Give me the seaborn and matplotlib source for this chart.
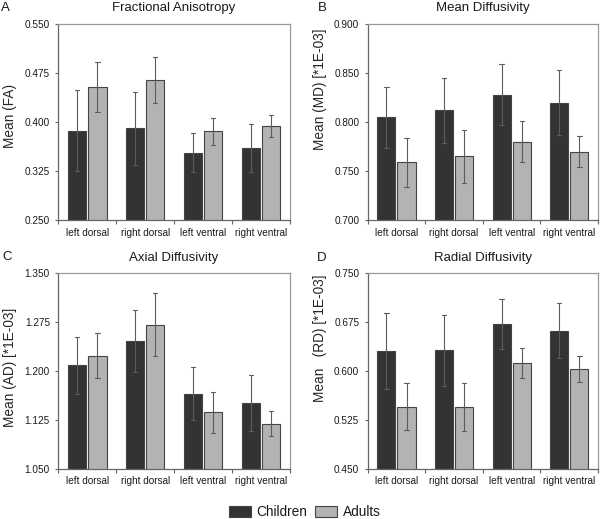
import pandas as pd
import matplotlib
matplotlib.use('Agg')
import matplotlib.pyplot as plt
import seaborn as sns
from matplotlib.patches import Patch
from matplotlib.ticker import FixedLocator, FormatStrFormatter

regions = ['left dorsal', 'right dorsal', 'left ventral', 'right ventral']
groups = ['Children', 'Adults']

fa_children = [0.387, 0.391, 0.353, 0.360]
fa_children_err = [0.062, 0.056, 0.030, 0.037]
fa_adults = [0.454, 0.465, 0.386, 0.394]
fa_adults_err = [0.038, 0.035, 0.021, 0.017]

md_children = [0.805, 0.812, 0.828, 0.820]
md_children_err = [0.031, 0.033, 0.031, 0.033]
md_adults = [0.759, 0.765, 0.780, 0.770]
md_adults_err = [0.025, 0.027, 0.021, 0.016]

ad_children = [1.208, 1.245, 1.165, 1.151]
ad_children_err = [0.044, 0.047, 0.040, 0.043]
ad_adults = [1.223, 1.270, 1.136, 1.119]
ad_adults_err = [0.035, 0.048, 0.032, 0.019]

rd_children = [0.630, 0.631, 0.671, 0.661]
rd_children_err = [0.058, 0.054, 0.038, 0.042]
rd_adults = [0.545, 0.544, 0.612, 0.603]
rd_adults_err = [0.036, 0.037, 0.023, 0.020]

colors = {'Children': '#333333', 'Adults': '#b3b3b3'}


def build(ch, ch_err, ad, ad_err):
    # two rows per bar (mean - err, mean + err) so seaborn draws mean and range
    rows = []
    for g, means, errs in [('Children', ch, ch_err), ('Adults', ad, ad_err)]:
        for r, m, e in zip(regions, means, errs):
            rows.append((r, g, m - e))
            rows.append((r, g, m + e))
    return pd.DataFrame(rows, columns=['region', 'group', 'value'])


panels = [
    ('A', 'Fractional Anisotropy', 'Mean (FA)', build(fa_children, fa_children_err, fa_adults, fa_adults_err),
     (0.250, 0.550), [0.250, 0.325, 0.400, 0.475, 0.550], 0.532, 9.8),
    ('B', 'Mean Diffusivity', 'Mean (MD) [*1E-03]', build(md_children, md_children_err, md_adults, md_adults_err),
     (0.700, 0.900), [0.700, 0.750, 0.800, 0.850, 0.900], 0.667, 9.8),
    ('C', 'Axial Diffusivity', 'Mean (AD) [*1E-03]', build(ad_children, ad_children_err, ad_adults, ad_adults_err),
     (1.050, 1.350), [1.050, 1.125, 1.200, 1.275, 1.350], 0.519, 8),
    ('D', 'Radial Diffusivity', 'Mean   (RD) [*1E-03]', build(rd_children, rd_children_err, rd_adults, rd_adults_err),
     (0.450, 0.750), [0.450, 0.525, 0.600, 0.675, 0.750], 0.665, 8),
]

sns.set_style('white')
plt.rcParams['font.family'] = ['Liberation Sans', 'DejaVu Sans']
plt.rcParams['text.color'] = '#1a1a1a'

fig = plt.figure(figsize=(6.0, 5.19), dpi=100)
positions = [
    [0.0972, 0.5761, 0.386, 0.377],
    [0.6128, 0.5761, 0.384, 0.377],
    [0.0972, 0.0969, 0.386, 0.378],
    [0.6128, 0.0969, 0.384, 0.378],
]
letter_pos = [(0.002, 0.979), (0.530, 0.979), (0.004, 0.499), (0.528, 0.497)]

for (letter, title, ylabel, df, ylim, yticks, ylab_y, tpad), pos, lp in zip(panels, positions, letter_pos):
    ax = fig.add_axes(pos)
    sns.barplot(data=df, x='region', y='value', hue='group', order=regions, hue_order=groups,
                palette=colors, estimator='mean', errorbar=lambda v: (v.min(), v.max()),
                width=0.7, gap=0.1, edgecolor='#444444', linewidth=0.8,
                capsize=0.15, err_kws={'color': '#5c5c5c', 'linewidth': 0.8},
                legend=False, ax=ax)
    ax.set_ylim(*ylim)
    ax.set_xlim(-0.5, 3.5)
    ax.set_yticks(yticks)
    ax.yaxis.set_major_formatter(FormatStrFormatter('%.3f'))
    ax.xaxis.set_minor_locator(FixedLocator([-0.5, 0.5, 1.5, 2.5, 3.5]))
    ax.tick_params(axis='x', which='major', length=0, pad=5.5, labelsize=7.2, colors='#1a1a1a')
    ax.tick_params(axis='x', which='minor', length=3, width=0.8, color='#666666', bottom=True)
    ax.tick_params(axis='y', length=2.5, width=0.8, color='#666666', pad=3.5, labelsize=7.2,
                   left=True, labelcolor='#1a1a1a')
    for side in ['left', 'bottom']:
        ax.spines[side].set_color('#666666')
        ax.spines[side].set_linewidth(0.9)
    for side in ['top', 'right']:
        ax.spines[side].set_color('#999999')
        ax.spines[side].set_linewidth(0.9)
    ax.set_xlabel('')
    ax.set_ylabel(ylabel, fontsize=9.8)
    ax.yaxis.set_label_coords(-0.178, ylab_y)
    ax.set_title(title, fontsize=9.5, pad=tpad)
    fig.text(lp[0], lp[1], letter, fontsize=9.5, va='baseline', ha='left')

handles = [Patch(facecolor=colors[g], edgecolor='#444444', linewidth=0.8, label=g) for g in groups]
fig.legend(handles=handles, loc='center', bbox_to_anchor=(0.508, 0.0135), ncol=2, frameon=False,
           fontsize=9.8, handlelength=1.6, handleheight=0.9, columnspacing=0.6, handletextpad=0.4,
           borderaxespad=0, borderpad=0)

fig.savefig('out.png', dpi=100)
